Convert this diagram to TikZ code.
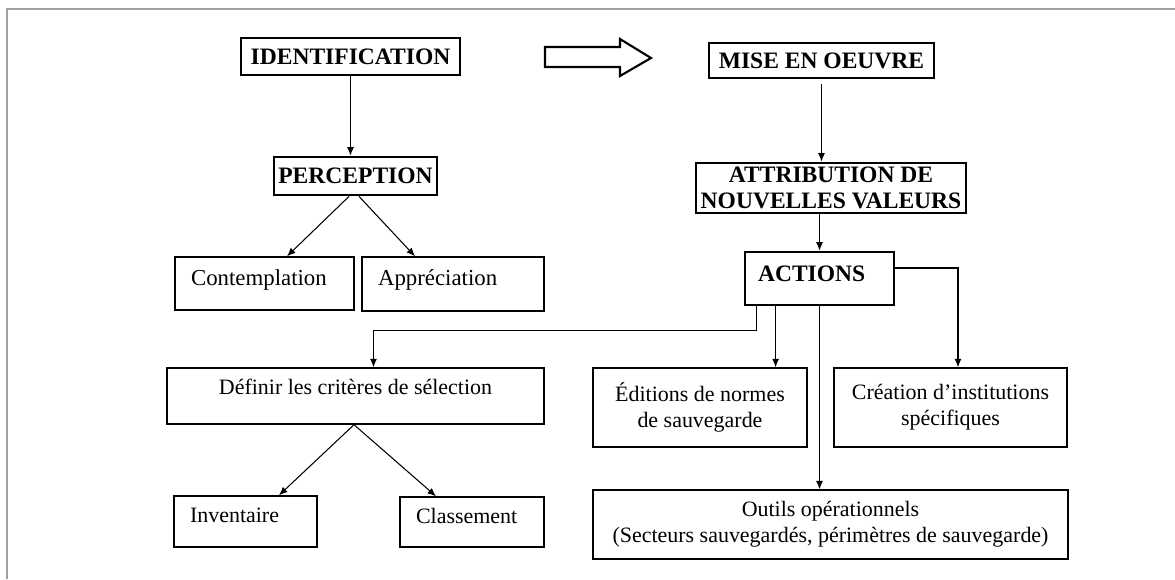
\documentclass[tikz,border=0pt]{standalone}
\usepackage{fontspec}
\setmainfont{Liberation Serif}
\usetikzlibrary{arrows.meta}
\tikzset{>={Latex[length=1.7mm,width=1.4mm]}}
\tikzstyle{capsbox}=[draw, line width=1.6pt, inner sep=1pt, align=center, font=\fontsize{13.4}{14.8}\selectfont\bfseries]
\tikzstyle{textbox}=[draw, line width=0.8pt, inner sep=2pt, align=center, font=\fontsize{12.5}{14.6}\selectfont]
\tikzstyle{leftbox}=[textbox, align=left, inner xsep=3.2mm, text depth=2.4mm]
\tikzstyle{link}=[->, line width=0.6pt]

\begin{document}
\begin{tikzpicture}[x=0.02cm, y=-0.02cm]
		\useasboundingbox (0,0) rectangle (1175,579);
		
		% Frame
		\draw[gray!75, line width=1.2pt] (7,579) -- (7,9) -- (1175,9);
		
		% Nodes
		\node[capsbox, minimum width=43.8mm, minimum height=7.4mm] (ident) at (350.5,56.5) {IDENTIFICATION};
		\node[capsbox, minimum width=32.6mm, minimum height=7.6mm] (percep) at (355.5,176) {PERCEPTION};
		\node[leftbox, text width=29.4mm, minimum height=10.6mm, font=\fontsize{13}{15}\selectfont] (contemp) at (264.5,283.5) {Contemplation};
		\node[leftbox, text width=30mm, minimum height=10.8mm, font=\fontsize{13}{15}\selectfont] (apprec) at (453,284) {Appréciation};
		\node[capsbox, minimum width=45mm, minimum height=7mm] (mise) at (821.5,60.5) {MISE EN OEUVRE};
		\node[capsbox, minimum width=54mm, minimum height=10mm, inner sep=0pt] (attrib) at (831,188) {ATTRIBUTION DE\\NOUVELLES VALEURS};
		\node[capsbox, text width=24.6mm, inner xsep=2.6mm, align=left, text depth=2mm, minimum height=10.6mm] (actions) at (819.5,278.5) {ACTIONS};
		\node[textbox, minimum width=75.4mm, minimum height=11.2mm, text depth=3.8mm] (definir) at (355.5,396) {Définir les critères de sélection};
		\node[leftbox, text width=22.2mm, minimum height=10.2mm] (invent) at (245.5,521.5) {Inventaire};
		\node[leftbox, text width=22.4mm, minimum height=10mm] (classe) at (472,522) {Classement};
		\node[textbox, minimum width=42.8mm, minimum height=15.8mm] (edit) at (700,407.5) {Éditions de normes\\de sauvegarde};
		\node[textbox, minimum width=46.6mm, minimum height=15.8mm] (creat) at (950.5,407.5) {Création d'institutions\\spécifiques};
		\node[textbox, minimum width=95mm, minimum height=13.8mm] (outils) at (830.5,524.5) {Outils opérationnels\\(Secteurs sauvegardés, périmètres de sauvegarde)};
		
		% Big arrow
		\draw[line width=1.2pt, line join=miter] (545,47) -- (620,47) -- (620,39) -- (651,58) -- (620,76) -- (620,67) -- (545,67) -- cycle;
		
		% Left column
		\draw[link] (ident.south) -- (ident.south |- percep.north);
		\draw[link] ([xshift=-1.3mm]percep.south) -- ([xshift=4.5mm]contemp.north);
		\draw[link] ([xshift=0.7mm]percep.south) -- ([xshift=-7.6mm]apprec.north);
		\draw[link] ([xshift=-0.3mm]definir.south) -- ([xshift=6.7mm]invent.north);
		\draw[link] ([xshift=-0.3mm]definir.south) -- ([xshift=-7.2mm]classe.north);
		
		% Right column
		\draw[link, shorten <=1mm] (mise.south) -- (mise.south |- attrib.north);
		\draw[link] (actions.north |- attrib.south) -- (actions.north);
		\draw[link] ([yshift=2.1mm]actions.east) -| ([xshift=1.5mm]creat.north);
		\draw[link] ([xshift=2.6mm]actions.south west) |- ([xshift=3.6mm,yshift=7.4mm]definir.north) -- ([xshift=3.6mm]definir.north);
		\draw[link] ([xshift=6.4mm]actions.south west) coordinate (e1) -- (e1 |- edit.north);
		\draw[link] (actions.south) -- (actions.south |- outils.north);
	\end{tikzpicture}
\end{document}
